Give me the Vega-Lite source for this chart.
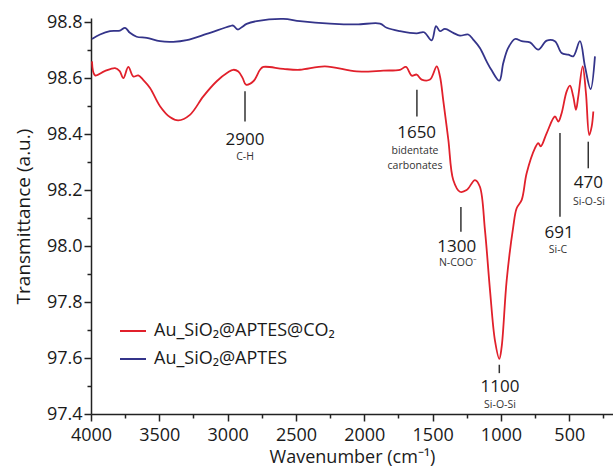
{
  "$schema": "https://vega.github.io/schema/vega-lite/v6.json",
  "width": 522,
  "height": 396,
  "autosize": {"type": "none"},
  "padding": {"left": 91, "top": 18, "right": 0, "bottom": 58},
  "background": "white",
  "config": {
    "view": {"stroke": null},
    "font": "Open Sans",
    "axis": {"grid": false, "domainColor": "#222222", "tickColor": "#222222", "labelColor": "#1a1a1a", "titleColor": "#1a1a1a", "labelFont": "Open Sans", "titleFont": "Open Sans", "titleFontWeight": "normal", "domainWidth": 1.5, "tickWidth": 1.5}
  },
  "datasets": {
    "spectra": [
      {"series": "Au_SiO₂@APTES@CO₂", "w": 3993, "t": 98.66},
      {"series": "Au_SiO₂@APTES@CO₂", "w": 3970, "t": 98.61},
      {"series": "Au_SiO₂@APTES@CO₂", "w": 3900, "t": 98.625},
      {"series": "Au_SiO₂@APTES@CO₂", "w": 3824, "t": 98.636},
      {"series": "Au_SiO₂@APTES@CO₂", "w": 3790, "t": 98.625},
      {"series": "Au_SiO₂@APTES@CO₂", "w": 3763, "t": 98.60},
      {"series": "Au_SiO₂@APTES@CO₂", "w": 3727, "t": 98.64},
      {"series": "Au_SiO₂@APTES@CO₂", "w": 3690, "t": 98.606},
      {"series": "Au_SiO₂@APTES@CO₂", "w": 3654, "t": 98.61},
      {"series": "Au_SiO₂@APTES@CO₂", "w": 3620, "t": 98.595},
      {"series": "Au_SiO₂@APTES@CO₂", "w": 3568, "t": 98.565},
      {"series": "Au_SiO₂@APTES@CO₂", "w": 3495, "t": 98.50},
      {"series": "Au_SiO₂@APTES@CO₂", "w": 3420, "t": 98.46},
      {"series": "Au_SiO₂@APTES@CO₂", "w": 3361, "t": 98.449},
      {"series": "Au_SiO₂@APTES@CO₂", "w": 3276, "t": 98.469},
      {"series": "Au_SiO₂@APTES@CO₂", "w": 3178, "t": 98.535},
      {"series": "Au_SiO₂@APTES@CO₂", "w": 3080, "t": 98.589},
      {"series": "Au_SiO₂@APTES@CO₂", "w": 3000, "t": 98.62},
      {"series": "Au_SiO₂@APTES@CO₂", "w": 2959, "t": 98.63},
      {"series": "Au_SiO₂@APTES@CO₂", "w": 2922, "t": 98.624},
      {"series": "Au_SiO₂@APTES@CO₂", "w": 2890, "t": 98.60},
      {"series": "Au_SiO₂@APTES@CO₂", "w": 2866, "t": 98.577},
      {"series": "Au_SiO₂@APTES@CO₂", "w": 2812, "t": 98.589},
      {"series": "Au_SiO₂@APTES@CO₂", "w": 2763, "t": 98.63},
      {"series": "Au_SiO₂@APTES@CO₂", "w": 2739, "t": 98.64},
      {"series": "Au_SiO₂@APTES@CO₂", "w": 2593, "t": 98.633},
      {"series": "Au_SiO₂@APTES@CO₂", "w": 2471, "t": 98.63},
      {"series": "Au_SiO₂@APTES@CO₂", "w": 2288, "t": 98.642},
      {"series": "Au_SiO₂@APTES@CO₂", "w": 2056, "t": 98.624},
      {"series": "Au_SiO₂@APTES@CO₂", "w": 1861, "t": 98.627},
      {"series": "Au_SiO₂@APTES@CO₂", "w": 1739, "t": 98.63},
      {"series": "Au_SiO₂@APTES@CO₂", "w": 1695, "t": 98.64},
      {"series": "Au_SiO₂@APTES@CO₂", "w": 1653, "t": 98.609},
      {"series": "Au_SiO₂@APTES@CO₂", "w": 1617, "t": 98.613},
      {"series": "Au_SiO₂@APTES@CO₂", "w": 1580, "t": 98.595},
      {"series": "Au_SiO₂@APTES@CO₂", "w": 1519, "t": 98.595},
      {"series": "Au_SiO₂@APTES@CO₂", "w": 1470, "t": 98.642},
      {"series": "Au_SiO₂@APTES@CO₂", "w": 1446, "t": 98.606},
      {"series": "Au_SiO₂@APTES@CO₂", "w": 1422, "t": 98.52},
      {"series": "Au_SiO₂@APTES@CO₂", "w": 1385, "t": 98.38},
      {"series": "Au_SiO₂@APTES@CO₂", "w": 1349, "t": 98.236},
      {"series": "Au_SiO₂@APTES@CO₂", "w": 1300, "t": 98.194},
      {"series": "Au_SiO₂@APTES@CO₂", "w": 1251, "t": 98.20},
      {"series": "Au_SiO₂@APTES@CO₂", "w": 1190, "t": 98.236},
      {"series": "Au_SiO₂@APTES@CO₂", "w": 1154, "t": 98.212},
      {"series": "Au_SiO₂@APTES@CO₂", "w": 1117, "t": 98.057},
      {"series": "Au_SiO₂@APTES@CO₂", "w": 1080, "t": 97.842},
      {"series": "Au_SiO₂@APTES@CO₂", "w": 1044, "t": 97.663},
      {"series": "Au_SiO₂@APTES@CO₂", "w": 1012, "t": 97.597},
      {"series": "Au_SiO₂@APTES@CO₂", "w": 995, "t": 97.639},
      {"series": "Au_SiO₂@APTES@CO₂", "w": 958, "t": 97.878},
      {"series": "Au_SiO₂@APTES@CO₂", "w": 910, "t": 98.069},
      {"series": "Au_SiO₂@APTES@CO₂", "w": 885, "t": 98.135},
      {"series": "Au_SiO₂@APTES@CO₂", "w": 848, "t": 98.165},
      {"series": "Au_SiO₂@APTES@CO₂", "w": 812, "t": 98.26},
      {"series": "Au_SiO₂@APTES@CO₂", "w": 751, "t": 98.35},
      {"series": "Au_SiO₂@APTES@CO₂", "w": 727, "t": 98.368},
      {"series": "Au_SiO₂@APTES@CO₂", "w": 709, "t": 98.356},
      {"series": "Au_SiO₂@APTES@CO₂", "w": 665, "t": 98.404},
      {"series": "Au_SiO₂@APTES@CO₂", "w": 605, "t": 98.463},
      {"series": "Au_SiO₂@APTES@CO₂", "w": 580, "t": 98.445},
      {"series": "Au_SiO₂@APTES@CO₂", "w": 556, "t": 98.475},
      {"series": "Au_SiO₂@APTES@CO₂", "w": 519, "t": 98.553},
      {"series": "Au_SiO₂@APTES@CO₂", "w": 495, "t": 98.573},
      {"series": "Au_SiO₂@APTES@CO₂", "w": 471, "t": 98.535},
      {"series": "Au_SiO₂@APTES@CO₂", "w": 451, "t": 98.487},
      {"series": "Au_SiO₂@APTES@CO₂", "w": 434, "t": 98.535},
      {"series": "Au_SiO₂@APTES@CO₂", "w": 402, "t": 98.642},
      {"series": "Au_SiO₂@APTES@CO₂", "w": 378, "t": 98.547},
      {"series": "Au_SiO₂@APTES@CO₂", "w": 354, "t": 98.397},
      {"series": "Au_SiO₂@APTES@CO₂", "w": 336, "t": 98.427},
      {"series": "Au_SiO₂@APTES@CO₂", "w": 324, "t": 98.481},
      {"series": "Au_SiO₂@APTES", "w": 3993, "t": 98.74},
      {"series": "Au_SiO₂@APTES", "w": 3934, "t": 98.756},
      {"series": "Au_SiO₂@APTES", "w": 3861, "t": 98.768},
      {"series": "Au_SiO₂@APTES", "w": 3788, "t": 98.77},
      {"series": "Au_SiO₂@APTES", "w": 3751, "t": 98.78},
      {"series": "Au_SiO₂@APTES", "w": 3715, "t": 98.762},
      {"series": "Au_SiO₂@APTES", "w": 3666, "t": 98.748},
      {"series": "Au_SiO₂@APTES", "w": 3592, "t": 98.744},
      {"series": "Au_SiO₂@APTES", "w": 3495, "t": 98.732},
      {"series": "Au_SiO₂@APTES", "w": 3398, "t": 98.73},
      {"series": "Au_SiO₂@APTES", "w": 3300, "t": 98.736},
      {"series": "Au_SiO₂@APTES", "w": 3154, "t": 98.758},
      {"series": "Au_SiO₂@APTES", "w": 2983, "t": 98.786},
      {"series": "Au_SiO₂@APTES", "w": 2959, "t": 98.788},
      {"series": "Au_SiO₂@APTES", "w": 2927, "t": 98.774},
      {"series": "Au_SiO₂@APTES", "w": 2897, "t": 98.782},
      {"series": "Au_SiO₂@APTES", "w": 2861, "t": 98.794},
      {"series": "Au_SiO₂@APTES", "w": 2787, "t": 98.804},
      {"series": "Au_SiO₂@APTES", "w": 2593, "t": 98.812},
      {"series": "Au_SiO₂@APTES", "w": 2471, "t": 98.804},
      {"series": "Au_SiO₂@APTES", "w": 2251, "t": 98.795},
      {"series": "Au_SiO₂@APTES", "w": 2056, "t": 98.792},
      {"series": "Au_SiO₂@APTES", "w": 1885, "t": 98.795},
      {"series": "Au_SiO₂@APTES", "w": 1836, "t": 98.78},
      {"series": "Au_SiO₂@APTES", "w": 1739, "t": 98.768},
      {"series": "Au_SiO₂@APTES", "w": 1617, "t": 98.76},
      {"series": "Au_SiO₂@APTES", "w": 1563, "t": 98.764},
      {"series": "Au_SiO₂@APTES", "w": 1507, "t": 98.735},
      {"series": "Au_SiO₂@APTES", "w": 1475, "t": 98.786},
      {"series": "Au_SiO₂@APTES", "w": 1446, "t": 98.768},
      {"series": "Au_SiO₂@APTES", "w": 1410, "t": 98.776},
      {"series": "Au_SiO₂@APTES", "w": 1349, "t": 98.762},
      {"series": "Au_SiO₂@APTES", "w": 1300, "t": 98.752},
      {"series": "Au_SiO₂@APTES", "w": 1239, "t": 98.756},
      {"series": "Au_SiO₂@APTES", "w": 1203, "t": 98.738},
      {"series": "Au_SiO₂@APTES", "w": 1154, "t": 98.708},
      {"series": "Au_SiO₂@APTES", "w": 1105, "t": 98.66},
      {"series": "Au_SiO₂@APTES", "w": 1068, "t": 98.628},
      {"series": "Au_SiO₂@APTES", "w": 1012, "t": 98.591},
      {"series": "Au_SiO₂@APTES", "w": 983, "t": 98.654},
      {"series": "Au_SiO₂@APTES", "w": 947, "t": 98.708},
      {"series": "Au_SiO₂@APTES", "w": 897, "t": 98.74},
      {"series": "Au_SiO₂@APTES", "w": 848, "t": 98.732},
      {"series": "Au_SiO₂@APTES", "w": 788, "t": 98.728},
      {"series": "Au_SiO₂@APTES", "w": 727, "t": 98.702},
      {"series": "Au_SiO₂@APTES", "w": 665, "t": 98.734},
      {"series": "Au_SiO₂@APTES", "w": 605, "t": 98.732},
      {"series": "Au_SiO₂@APTES", "w": 556, "t": 98.69},
      {"series": "Au_SiO₂@APTES", "w": 507, "t": 98.684},
      {"series": "Au_SiO₂@APTES", "w": 471, "t": 98.678},
      {"series": "Au_SiO₂@APTES", "w": 422, "t": 98.732},
      {"series": "Au_SiO₂@APTES", "w": 385, "t": 98.642},
      {"series": "Au_SiO₂@APTES", "w": 344, "t": 98.561},
      {"series": "Au_SiO₂@APTES", "w": 312, "t": 98.678}
    ],
    "rules": [
      {"w": 2873, "t": 98.553, "t2": 98.445},
      {"w": 1615, "t": 98.559, "t2": 98.463},
      {"w": 1293, "t": 98.14, "t2": 98.051},
      {"w": 1012, "t": 97.576, "t2": 97.546},
      {"w": 568, "t": 98.404, "t2": 98.105},
      {"w": 361, "t": 98.373, "t2": 98.278}
    ],
    "peaks": [
      {"w": 2873, "t": 98.38, "label": "2900"},
      {"w": 1617, "t": 98.404, "label": "1650"},
      {"w": 1324, "t": 97.997, "label": "1300"},
      {"w": 1007, "t": 97.496, "label": "1100"},
      {"w": 575, "t": 98.047, "label": "691"},
      {"w": 361, "t": 98.224, "label": "470"}
    ],
    "notes": [
      {"w": 2873, "t": 98.319, "label": "C-H"},
      {"w": 1629, "t": 98.34, "label": "bidentate"},
      {"w": 1629, "t": 98.287, "label": "carbonates"},
      {"w": 1314, "t": 97.938, "label": "N-COO⁻"},
      {"w": 1007, "t": 97.433, "label": "Si-O-Si"},
      {"w": 583, "t": 97.985, "label": "Si-C"},
      {"w": 356, "t": 98.158, "label": "Si-O-Si"}
    ]
  },
  "layer": [
    {
      "data": {"name": "spectra"},
      "mark": {"type": "line", "strokeWidth": 1.8, "interpolate": "catmull-rom"},
      "encoding": {
        "x": {"field": "w", "type": "quantitative", "scale": {"domain": [4000, 180], "nice": false, "zero": false},
          "axis": {"orient": "bottom", "values": [4000, 3500, 3000, 2500, 2000, 1500, 1000, 500], "format": "d", "tickSize": 7, "labelFontSize": 18, "labelPadding": 5, "title": "Wavenumber (cm⁻¹)", "titleFontSize": 18, "titlePadding": 4, "labelFlush": false}},
        "y": {"field": "t", "type": "quantitative", "scale": {"domain": [97.4, 98.815], "nice": false, "zero": false},
          "axis": {"orient": "left", "values": [97.4, 97.6, 97.8, 98.0, 98.2, 98.4, 98.6, 98.8], "format": ".1f", "tickSize": 7, "labelFontSize": 18, "labelPadding": 2, "title": "Transmittance (a.u.)", "titleFontSize": 19, "titlePadding": 13, "labelFlush": false}},
        "color": {"field": "series", "type": "nominal",
          "scale": {"domain": ["Au_SiO₂@APTES@CO₂", "Au_SiO₂@APTES"], "range": ["#e1202b", "#34348a"]},
          "legend": {"orient": "none", "legendX": 28, "legendY": 299, "title": null, "symbolType": "stroke", "symbolSize": 676, "symbolStrokeWidth": 2, "labelFontSize": 18, "labelFont": "Open Sans", "labelColor": "#1a1a1a", "rowPadding": 5, "labelOffset": 7, "labelLimit": 400}}
      }
    },
    {
      "data": {"name": "spectra"},
      "mark": {"type": "line", "strokeOpacity": 0},
      "encoding": {
        "x": {"field": "w", "type": "quantitative", "scale": {"domain": [4000, 180], "nice": false, "zero": false},
          "axis": {"orient": "bottom", "values": [3750, 3250, 2750, 2250, 1750, 1250, 750, 250], "tickSize": 4, "labels": false, "domain": false, "title": null}},
        "y": {"field": "t", "type": "quantitative", "scale": {"domain": [97.4, 98.815], "nice": false, "zero": false},
          "axis": {"orient": "left", "values": [97.5, 97.7, 97.9, 98.1, 98.3, 98.5, 98.7], "tickSize": 4, "labels": false, "domain": false, "title": null}},
        "detail": {"field": "series"}
      }
    },
    {
      "data": {"name": "rules"},
      "mark": {"type": "rule", "color": "#333333", "strokeWidth": 1.5},
      "encoding": {
        "x": {"field": "w", "type": "quantitative", "scale": {"domain": [4000, 180], "nice": false, "zero": false}, "axis": null},
        "y": {"field": "t", "type": "quantitative", "scale": {"domain": [97.4, 98.815], "nice": false, "zero": false}, "axis": null},
        "y2": {"field": "t2"}
      }
    },
    {
      "data": {"name": "peaks"},
      "mark": {"type": "text", "fontSize": 17, "font": "Open Sans", "color": "#1a1a1a", "align": "center", "baseline": "middle"},
      "encoding": {
        "x": {"field": "w", "type": "quantitative", "scale": {"domain": [4000, 180], "nice": false, "zero": false}, "axis": null},
        "y": {"field": "t", "type": "quantitative", "scale": {"domain": [97.4, 98.815], "nice": false, "zero": false}, "axis": null},
        "text": {"field": "label"}
      }
    },
    {
      "data": {"name": "notes"},
      "mark": {"type": "text", "fontSize": 10.5, "font": "Open Sans", "color": "#333333", "align": "center", "baseline": "middle"},
      "encoding": {
        "x": {"field": "w", "type": "quantitative", "scale": {"domain": [4000, 180], "nice": false, "zero": false}, "axis": null},
        "y": {"field": "t", "type": "quantitative", "scale": {"domain": [97.4, 98.815], "nice": false, "zero": false}, "axis": null},
        "text": {"field": "label"}
      }
    }
  ],
  "resolve": {"axis": {"x": "independent", "y": "independent"}}
}
